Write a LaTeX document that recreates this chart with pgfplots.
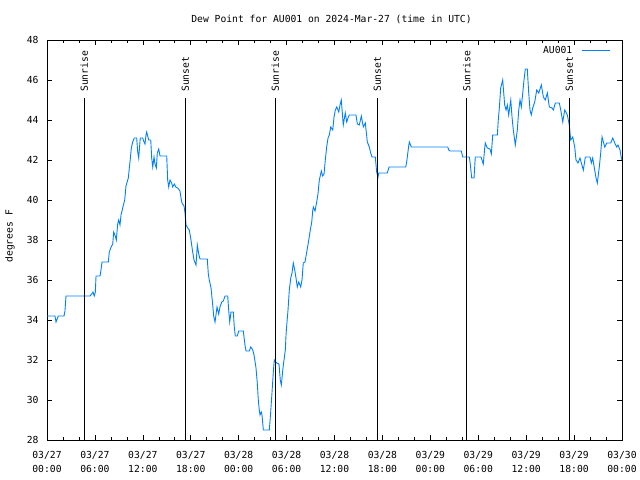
\documentclass[border=0pt]{standalone}
\usepackage{fontspec}
\setmainfont{DejaVu Sans Mono}
\usepackage{pgfplots}
\pgfplotsset{compat=1.18}
\definecolor{dewblue}{RGB}{0,128,255}
\begin{document}
\fontsize{9.7bp}{11.5bp}\selectfont
\begin{tikzpicture}
\path[use as bounding box] (-47bp,-40bp) rectangle (593bp,440bp);
\begin{axis}[
  at={(0,0)}, anchor=south west,
  scale only axis, width=575bp, height=400bp,
  xmin=0, xmax=72, ymin=28, ymax=48,
  xtick={0,6,...,72}, minor x tick num=2,
  ytick={28,30,...,48},
  tick align=inside, major tick length=5bp, minor tick length=3bp,
  tick style={black, line width=0.6bp},
  axis line style={black, line width=0.8bp},
  xticklabels={{03/27\\00:00},{03/27\\06:00},{03/27\\12:00},{03/27\\18:00},{03/28\\00:00},{03/28\\06:00},{03/28\\12:00},{03/28\\18:00},{03/29\\00:00},{03/29\\06:00},{03/29\\12:00},{03/29\\18:00},{03/30\\00:00}},
  xticklabel style={align=center, font=\fontsize{9.7bp}{14bp}\selectfont, yshift=-7.5bp},
  yticklabel style={xshift=-5bp},
  /pgf/number format/assume math mode=true,
  title={Dew Point for AU001 on 2024-Mar-27 (time in UTC)},
  title style={at={(axis description cs:0.5,1)}, anchor=base, yshift=12bp, xshift=-3bp},
  ylabel={degrees F},
  ylabel style={at={(axis description cs:-0.0643,0.509)}, anchor=center},
  legend style={draw=none, fill=none, at={(axis description cs:0.985,0.995)}, anchor=north east, legend cell align=right},
  legend plot pos=right,
  legend image code/.code={\draw[#1] (0bp,0bp) -- (28bp,0bp);},
]
\addplot[dewblue, line width=0.9bp] coordinates {
(0,34.2) (1.00,34.2) (1.13,33.9) (1.415,34.2) (2.13,34.2) (2.25,34.45) (2.38,35.2)
(5.38,35.2) (5.60,35.3) (5.76,35.4) (5.92,35.2) (6.05,35.4) (6.14,36.2) (6.64,36.2)
(6.76,36.5) (6.89,36.9) (7.68,36.9) (7.80,37.4) (7.98,37.6) (8.23,37.8) (8.35,38.4)
(8.55,38.2) (8.68,38.0) (8.85,38.8) (8.98,39.0) (9.14,38.75) (9.27,39.25) (9.48,39.6)
(9.73,40.0) (9.89,40.7) (10.18,41.1) (10.31,41.6) (10.43,42.05) (10.56,42.6) (10.73,42.9)
(10.93,43.1) (11.23,43.1) (11.36,42.4) (11.48,42.1) (11.68,43.1) (11.98,43.1) (12.15,42.9)
(12.27,42.8) (12.40,43.25) (12.48,43.4) (12.61,43.2) (12.73,43.0) (12.99,43.0) (13.11,42.1)
(13.24,41.65) (13.40,42.15) (13.52,41.8) (13.69,41.6) (13.81,42.35) (13.99,42.55) (14.15,42.2)
(14.99,42.2) (15.11,41.0) (15.24,40.65) (15.40,41.0) (15.61,40.85) (15.74,40.65) (15.94,40.8)
(16.12,40.65) (16.37,40.6) (16.65,40.45) (16.78,40.1) (16.90,39.85) (17.16,39.7) (17.28,39.35)
(17.41,38.75) (17.62,38.6) (17.82,38.5) (18.03,38.0) (18.24,37.4) (18.41,37.0) (18.66,36.75)
(18.82,37.75) (19.00,37.3) (19.16,37.05) (20.07,37.05) (20.20,36.3) (20.32,36.0) (20.54,35.6)
(20.75,34.75) (20.87,34.2) (21.04,33.9) (21.29,34.65) (21.50,34.3) (21.66,34.65) (21.88,34.9)
(22.08,34.95) (22.29,35.2) (22.63,35.2) (22.75,34.5) (22.88,33.9) (23.04,34.4) (23.33,34.4)
(23.45,33.65) (23.58,33.2) (23.83,33.2) (24.00,33.45) (24.58,33.45) (24.79,32.75) (24.92,32.45)
(25.33,32.45) (25.51,32.65) (25.76,32.5) (25.92,32.25) (26.08,31.85) (26.17,31.6) (26.33,30.85)
(26.46,30.0) (26.58,29.5) (26.67,29.25) (26.83,29.4) (26.92,29.25) (27.09,28.5) (27.84,28.5)
(28.01,29.4) (28.17,30.35) (28.34,31.4) (28.46,32.0) (28.76,31.85) (29.05,31.8) (29.21,31.0)
(29.34,30.75) (29.55,31.6) (29.71,32.1) (29.84,32.5) (29.93,33.25) (30.02,33.75) (30.18,34.5)
(30.34,35.5) (30.52,36.1) (30.68,36.35) (30.84,36.85) (31.02,36.5) (31.18,36.1) (31.34,35.65)
(31.52,35.9) (31.77,35.65) (31.93,36.0) (32.09,36.85) (32.31,36.9) (32.52,37.4) (32.72,37.85)
(32.93,38.4) (33.15,38.9) (33.27,39.45) (33.35,39.65) (33.56,39.45) (33.77,39.9) (33.93,40.3)
(34.10,41.0) (34.35,41.45) (34.52,41.2) (34.69,41.3) (34.85,42.0) (35.02,42.65) (35.19,43.1)
(35.35,43.25) (35.53,43.65) (35.78,43.5) (35.94,44.15) (36.10,44.5) (36.28,44.65) (36.53,44.4)
(36.69,44.75) (36.85,45.0) (36.98,44.35) (37.10,43.75) (37.35,44.35) (37.53,43.9) (37.69,44.1)
(37.85,44.25) (38.69,44.25) (38.86,43.8) (39.11,43.75) (39.36,44.2) (39.61,43.65) (39.86,43.85)
(39.95,43.5) (40.11,42.9) (40.36,42.65) (40.53,42.35) (40.70,42.15) (41.11,42.15) (41.28,41.4)
(41.45,41.15) (41.54,41.35) (42.61,41.35) (42.83,41.65) (44.92,41.65) (45.04,41.9) (45.29,42.7)
(45.37,42.9) (45.62,42.65) (50.18,42.65) (50.30,42.5) (50.46,42.45) (51.88,42.45) (52.05,42.15)
(52.88,42.15) (52.97,41.9) (53.18,41.1) (53.47,41.1) (53.63,42.15) (54.35,42.15) (54.63,41.8)
(54.81,42.6) (54.88,42.85) (55.13,42.6) (55.47,42.55) (55.64,42.3) (55.81,43.25) (56.39,43.25)
(56.51,44.0) (56.64,44.6) (56.81,45.6) (57.06,46.0) (57.31,44.75) (57.48,44.5) (57.64,44.75)
(57.81,44.25) (58.07,45.0) (58.23,44.15) (58.39,43.5) (58.64,42.75) (58.89,43.5) (59.07,44.5)
(59.23,45.0) (59.39,44.65) (59.57,45.35) (59.73,46.0) (59.89,46.55) (60.14,46.55) (60.32,45.35)
(60.48,44.5) (60.64,44.25) (60.82,44.6) (61.07,44.9) (61.32,45.5) (61.57,45.35) (61.90,45.75)
(62.15,45.15) (62.40,45.0) (62.65,45.35) (62.90,44.65) (63.24,44.6) (63.40,44.5) (63.65,44.85)
(64.15,44.85) (64.33,44.5) (64.58,43.9) (64.83,44.5) (65.15,44.25) (65.33,43.9) (65.40,43.75)
(65.58,43.0) (65.83,43.15) (66.08,42.65) (66.24,42.0) (66.49,41.85) (66.74,42.1) (66.91,41.85)
(67.16,41.5) (67.41,42.15) (68.00,42.15) (68.16,41.85) (68.33,42.1) (68.58,41.5) (68.75,41.1)
(68.91,40.85) (69.16,41.65) (69.33,42.35) (69.50,43.15) (69.84,42.65) (70.09,42.85) (70.59,42.85)
(70.84,43.1) (71.09,42.85) (71.34,42.65) (71.50,42.75) (71.75,42.5) (71.92,42.1) (72.00,42.0)
};
\addlegendentry{AU001\kern7bp}
\addplot[black, line width=1bp, forget plot] coordinates {(4.67,28) (4.67,45.1)};
\addplot[black, line width=1bp, forget plot] coordinates {(17.32,28) (17.32,45.1)};
\addplot[black, line width=1bp, forget plot] coordinates {(28.59,28) (28.59,45.1)};
\addplot[black, line width=1bp, forget plot] coordinates {(41.36,28) (41.36,45.1)};
\addplot[black, line width=1bp, forget plot] coordinates {(52.55,28) (52.55,45.1)};
\addplot[black, line width=1bp, forget plot] coordinates {(65.40,28) (65.40,45.1)};
\node[rotate=90, anchor=west, inner sep=0pt] at (axis cs:4.67,45.4) {Sunrise};
\node[rotate=90, anchor=west, inner sep=0pt] at (axis cs:17.32,45.4) {Sunset};
\node[rotate=90, anchor=west, inner sep=0pt] at (axis cs:28.59,45.4) {Sunrise};
\node[rotate=90, anchor=west, inner sep=0pt] at (axis cs:41.36,45.4) {Sunset};
\node[rotate=90, anchor=west, inner sep=0pt] at (axis cs:52.55,45.4) {Sunrise};
\node[rotate=90, anchor=west, inner sep=0pt] at (axis cs:65.40,45.4) {Sunset};
\end{axis}
\end{tikzpicture}
\end{document}
